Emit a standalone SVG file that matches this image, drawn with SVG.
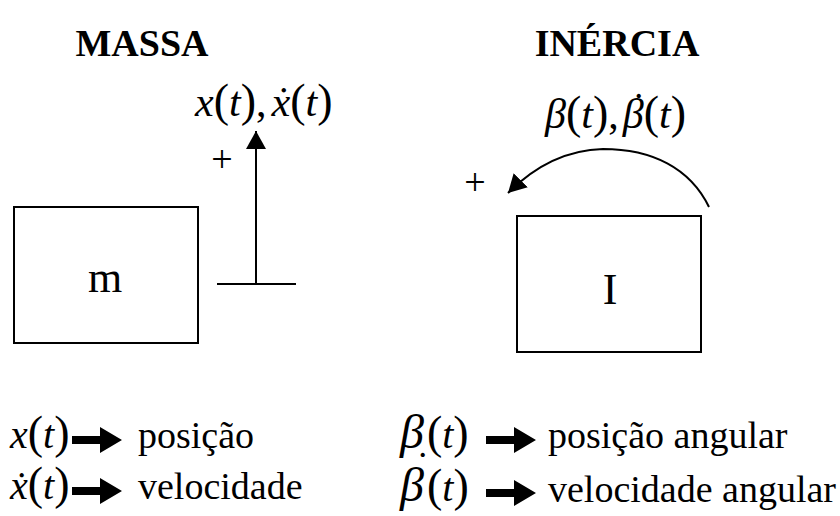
<svg xmlns="http://www.w3.org/2000/svg" width="840" height="516" viewBox="0 0 840 516">
<style>
text{font-family:"Liberation Serif","Times New Roman",serif;fill:#000}
.title{font-size:38px;font-weight:bold;text-anchor:middle}
.lbl{font-size:38px}
.big{font-size:44px}
.math{font-size:42px}
.leg{font-size:40px}
.p{font-size:46px;font-style:normal}
.it{font-style:italic}
.d{font-size:40px;font-style:normal}
.box{fill:#fff;stroke:#000;stroke-width:2}
.ln{fill:none;stroke:#000;stroke-width:2}
</style>
<defs>
<marker id="ah" markerUnits="userSpaceOnUse" markerWidth="22" markerHeight="22" refX="18" refY="10" orient="auto">
<path d="M0,0 L18,10 L0,20 Z" fill="#000"/>
</marker>
<path id="bar" d="M0,-4 L28,-4 L28,-13 L50,0 L28,13 L28,4 L0,4 Z"/>
</defs>
<rect width="840" height="516" fill="#fff"/>

<g id="title-massa"><text class="title" x="142" y="56">MASSA</text></g>
<g id="title-inercia"><text class="title" x="617" y="56">INÉRCIA</text></g>

<g id="node-m">
<rect class="box" x="14" y="207" width="184" height="136"/>
<text class="big" x="105" y="292" text-anchor="middle">m</text>
</g>
<g id="node-I">
<rect class="box" x="517" y="216" width="184" height="136"/>
<text class="big" x="610" y="304" text-anchor="middle">I</text>
</g>

<g id="connectors">
<line class="ln" x1="217" y1="284" x2="296" y2="284"/>
<line class="ln" x1="256" y1="284" x2="256" y2="131" marker-end="url(#ah)"/>
<path class="ln" d="M709,207 C690,168 652,149 603,149 C565,150 535,166 508,193" marker-end="url(#ah)"/>
<use href="#bar" x="72" y="440"/>
<use href="#bar" x="72" y="491"/>
<use href="#bar" x="486" y="440"/>
<use href="#bar" x="486" y="493"/>
</g>

<g id="label-x">
<text class="math" x="195" y="116"><tspan class="it">x</tspan><tspan class="p">(</tspan><tspan class="it">t</tspan><tspan class="p">)</tspan>,<tspan class="it" dx="5">ẋ</tspan><tspan class="p">(</tspan><tspan class="it">t</tspan><tspan class="p">)</tspan></text>
<text class="lbl" x="222" y="172" text-anchor="middle">+</text>
</g>
<g id="label-beta">
<text class="math" x="545" y="128"><tspan class="it">β</tspan><tspan class="p">(</tspan><tspan class="it">t</tspan><tspan class="p">)</tspan>,<tspan class="it" dx="4">β</tspan><tspan class="d" dx="-11.7" dy="-8">˙</tspan><tspan class="p" dx="-1.6" dy="8">(</tspan><tspan class="it">t</tspan><tspan class="p">)</tspan></text>
<text class="lbl" x="475" y="195" text-anchor="middle">+</text>
</g>

<g id="legend">
<text class="leg" x="10" y="448"><tspan class="it">x</tspan><tspan class="p">(</tspan><tspan class="it">t</tspan><tspan class="p">)</tspan></text>
<text class="lbl" x="138" y="448">posição</text>
<text class="leg" x="10" y="499"><tspan class="it">ẋ</tspan><tspan class="p">(</tspan><tspan class="it">t</tspan><tspan class="p">)</tspan></text>
<text class="lbl" x="138" y="499">velocidade</text>
<text class="leg" x="400" y="448"><tspan class="it" font-size="48">β</tspan><tspan class="p" dx="3">(</tspan><tspan class="it">t</tspan><tspan class="p">)</tspan></text>
<text class="lbl" x="548" y="448">posição angular</text>
<text class="leg" x="400" y="501"><tspan class="it" font-size="48">β</tspan><tspan class="d" dx="-8" dy="-22">˙</tspan><tspan class="p" dx="-2.3" dy="22">(</tspan><tspan class="it">t</tspan><tspan class="p">)</tspan></text>
<text class="lbl" x="548" y="502">velocidade angular</text>
</g>
</svg>
